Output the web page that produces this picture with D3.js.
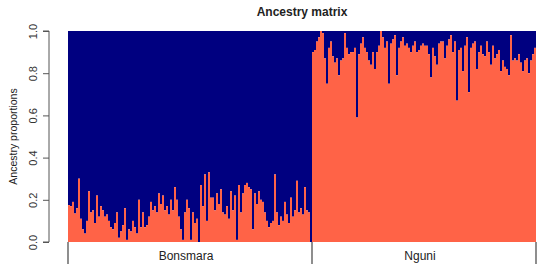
<!DOCTYPE html>
<html lang="en">
<head>
<meta charset="UTF-8">
<title>Ancestry matrix</title>
<script src="https://d3js.org/d3.v7.min.js"></script>
<style>
  body { margin: 0; background: #fff; }
  text { font-family: "Liberation Sans", Arial, sans-serif; fill: #222; }
</style>
</head>
<body>
<script>
  const width = 540, height = 269;

  // proportion of the first (tomato) cluster per individual
  const bonsmara = [
    0.175, 0.17, 0.19, 0.135, 0.16, 0.30, 0.11, 0.06, 0.04, 0.10,
    0.24, 0.14, 0.15, 0.09, 0.22, 0.12, 0.17, 0.15, 0.12, 0.13,
    0.10, 0.07, 0.06, 0.09, 0.14, 0.02, 0.05, 0.08, 0.16, 0.01,
    0.06, 0.05, 0.10, 0.07, 0.04, 0.20, 0.07, 0.14, 0.07, 0.08,
    0.12, 0.19, 0.15, 0.17, 0.14, 0.23, 0.18, 0.22, 0.15, 0.17,
    0.13, 0.20, 0.15, 0.26, 0.20, 0.12, 0.06, 0.01, 0.14, 0.20,
    0.16, 0.01, 0.14, 0.09, 0.11, 0.00, 0.27, 0.17, 0.32, 0.10,
    0.33, 0.21, 0.21, 0.15, 0.23, 0.18, 0.25, 0.14, 0.13, 0.17,
    0.11, 0.24, 0.15, 0.22, 0.01, 0.27, 0.14, 0.23, 0.27, 0.28,
    0.26, 0.25, 0.06, 0.23, 0.18, 0.24, 0.20, 0.19, 0.14, 0.10,
    0.07, 0.09, 0.10, 0.32, 0.14, 0.08, 0.12, 0.10, 0.19, 0.13,
    0.09, 0.21, 0.12, 0.15, 0.29, 0.14, 0.16, 0.13, 0.26, 0.15,
    0.14, 0.00
  ];
  const nguni = [
    0.90, 0.91, 0.95, 0.97, 1.00, 0.99, 0.87, 0.75, 0.92, 0.95,
    0.88, 0.85, 0.87, 0.79, 0.86, 0.87, 0.99, 0.92, 0.89, 0.90,
    0.90, 0.92, 0.59, 0.89, 0.94, 0.97, 0.92, 0.90, 0.86, 0.84,
    0.90, 0.82, 0.90, 0.93, 1.00, 0.97, 0.92, 0.95, 0.75, 0.94,
    0.96, 0.98, 0.79, 0.92, 0.95, 0.97, 0.93, 0.94, 0.92, 0.90,
    0.93, 0.95, 0.90, 0.91, 0.93, 0.94, 0.93, 0.93, 0.89, 0.78,
    0.92, 0.88, 0.84, 0.94, 0.95, 0.95, 0.87, 0.93, 0.96, 0.98,
    0.90, 0.95, 0.67, 0.91, 0.92, 0.81, 0.93, 0.97, 0.71, 0.92,
    0.94, 0.95, 0.82, 0.90, 0.93, 0.89, 0.88, 0.95, 0.90, 0.84,
    0.93, 0.87, 0.89, 0.91, 0.81, 0.86, 0.83, 0.82, 0.79, 0.98,
    0.86, 0.87, 0.86, 0.89, 0.85, 0.81, 0.86, 0.87, 0.80, 0.86,
    0.89, 0.92
  ];
  const groups = ["Bonsmara", "Nguni"];
  const yTicks = [0, 0.2, 0.4, 0.6, 0.8, 1.0];

  const rows = [];
  [bonsmara, nguni].forEach((vals, g) => {
    vals.forEach(v => rows.push({ group: groups[g], q: v }));
  });

  const margin = { left: 68, right: 4, top: 31, bottom: 27 };
  const x = d3.scaleBand().domain(d3.range(rows.length))
      .range([margin.left, width - margin.right]).padding(0);
  const y = d3.scaleLinear().domain([0, 1]).range([height - margin.bottom, margin.top]);

  const svg = d3.select("body").append("svg")
      .attr("width", width).attr("height", height);

  // bars
  const bar = svg.append("g").selectAll("g")
      .data(rows).enter().append("g");
  bar.append("rect")
      .attr("x", (d, i) => x(i)).attr("width", x.bandwidth())
      .attr("y", y(1)).attr("height", d => y(d.q) - y(1))
      .style("fill", "#000080");
  bar.append("rect")
      .attr("x", (d, i) => x(i)).attr("width", x.bandwidth())
      .attr("y", d => y(d.q)).attr("height", d => y(0) - y(d.q))
      .style("fill", "#ff6347");

  // y axis
  const yAxis = svg.append("g")
      .attr("transform", `translate(49,0)`)
      .call(d3.axisLeft(y).tickValues(yTicks).tickFormat(d3.format(".1f")).tickSize(6).tickPadding(10));
  yAxis.select(".domain").attr("stroke", "#555").attr("d", `M-6,${y(0)}H0V${y(1)}H-6`);
  yAxis.selectAll(".tick line").attr("stroke", "#555");
  yAxis.selectAll(".tick text")
      .attr("transform", "rotate(-90)")
      .attr("x", 0).attr("y", -16)
      .attr("dy", "0.35em")
      .style("text-anchor", "middle")
      .style("font-size", "11px")
      .style("fill", "#333");

  // group separators and labels
  const bounds = [0];
  let n = 0;
  [bonsmara, nguni].forEach(v => { n += v.length; bounds.push(n); });
  const bx = i => (i < rows.length ? x(i) : x(rows.length - 1) + x.bandwidth());

  svg.append("g").selectAll("line")
      .data(bounds).enter().append("line")
      .attr("x1", d => bx(d)).attr("x2", d => bx(d))
      .attr("y1", y(0)).attr("y2", y(0) + 22)
      .style("stroke", "#444").style("stroke-width", 1.2);

  svg.append("g").selectAll("text")
      .data(groups).enter().append("text")
      .attr("x", (d, i) => (bx(bounds[i]) + bx(bounds[i + 1])) / 2 - 4)
      .attr("y", y(0) + 18)
      .style("text-anchor", "middle")
      .style("font-size", "12px")
      .text(d => d);

  svg.append("text")
      .attr("transform", `translate(13,${(y(0) + y(1)) / 2}) rotate(-90)`)
      .attr("dy", "0.35em")
      .style("text-anchor", "middle")
      .style("font-size", "10.5px")
      .text("Ancestry proportions");

  svg.append("text")
      .attr("x", 302).attr("y", 16)
      .style("text-anchor", "middle")
      .style("font-size", "12px")
      .style("font-weight", "bold")
      .text("Ancestry matrix");
</script>
</body>
</html>
